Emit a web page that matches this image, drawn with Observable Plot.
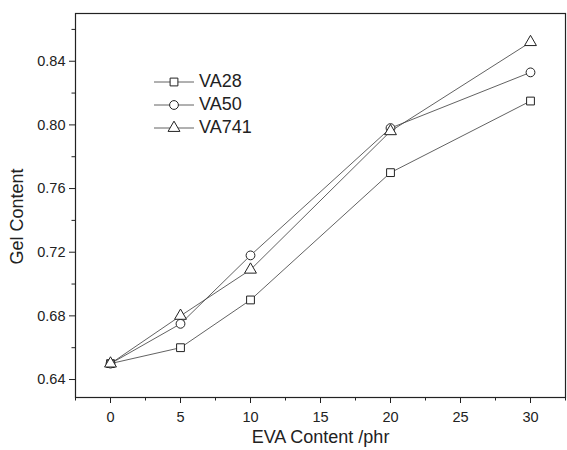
<!DOCTYPE html>
<html>
<head>
<meta charset="utf-8">
<script src="https://cdn.jsdelivr.net/npm/d3@7"></script>
<script src="https://cdn.jsdelivr.net/npm/@observablehq/plot@0.6"></script>
<style>
  html, body { margin: 0; padding: 0; background: #fff; }
  #wrap { position: relative; width: 567px; height: 450px; font-family: "Liberation Sans", Arial, sans-serif; }
  #legend { position: absolute; left: 154px; top: 70px; }
  .row { display: flex; align-items: center; height: 23px; }
  .row span { font-size: 18px; color: #222; margin-left: 5px; }
</style>
</head>
<body>
<div id="wrap"><div id="legend"></div></div>
<script>
const evaContent = [0, 5, 10, 20, 30];
const seriesNames = ["VA28", "VA50", "VA741"];
const va28 = [0.650, 0.660, 0.690, 0.770, 0.815];
const va50 = [0.650, 0.675, 0.718, 0.798, 0.833];
const va741 = [0.650, 0.680, 0.709, 0.796, 0.852];
const symbols = ["square", "circle", "triangle"];
const yTicks = [0.64, 0.68, 0.72, 0.76, 0.80, 0.84];
const yMinor = [0.66, 0.70, 0.74, 0.78, 0.82, 0.86];
const xTicks = [0, 5, 10, 15, 20, 25, 30];
const xMinor = [-2.5, 2.5, 7.5, 12.5, 17.5, 22.5, 27.5, 32.5];
const yTitle = "Gel Content";
const xTitle = "EVA Content /phr";

const values = [va28, va50, va741];
const data = [];
seriesNames.forEach((s, i) => evaContent.forEach((x, j) => data.push({series: s, x, y: values[i][j]})));

const lineColor = "#3a3a3a";
const R = 4.4;
const chart = Plot.plot({
  width: 567,
  height: 450,
  marginLeft: 75,
  marginRight: 2,
  marginTop: 13,
  marginBottom: 53,
  style: {fontFamily: "Liberation Sans, Arial, sans-serif", fontSize: "14px", color: "#222", background: "white"},
  x: {domain: [-2.5, 32.5]},
  y: {domain: [0.6287, 0.870]},
  symbol: {domain: seriesNames, range: symbols},
  marks: [
    Plot.frame({stroke: "#222", strokeWidth: 1.2}),
    Plot.axisY({ticks: yTicks, tickFormat: d3.format(".2f"), tickSize: 6, tickPadding: 4, fontSize: 14.5, label: null}),
    Plot.axisY({ticks: yMinor, tickSize: 3.5, tickFormat: () => "", label: null}),
    Plot.axisX({ticks: xTicks, tickSize: 6, tickPadding: 8, fontSize: 14.5, label: null}),
    Plot.axisX({ticks: xMinor, tickSize: 3.5, tickFormat: () => "", label: null}),
    Plot.text([yTitle], {frameAnchor: "left", textAnchor: "middle", lineAnchor: "middle", rotate: -90, dx: -58, dy: 11, fontSize: 18, fill: "#222"}),
    Plot.text([xTitle], {frameAnchor: "bottom", dy: 45, fontSize: 18, fill: "#222"}),
    Plot.line(data, {x: "x", y: "y", z: "series", stroke: lineColor, strokeWidth: 0.8}),
    Plot.dot(data, {x: "x", y: "y", symbol: "series", r: R, stroke: "#222", strokeWidth: 1, fill: "white"})
  ]
});
document.getElementById("wrap").prepend(chart);

const legend = document.getElementById("legend");
seriesNames.forEach((s, i) => {
  const row = document.createElement("div");
  row.className = "row";
  const svg = d3.create("svg").attr("width", 40).attr("height", 20);
  svg.append("line").attr("x1", 0).attr("x2", 40).attr("y1", 10).attr("y2", 10).attr("stroke", lineColor).attr("stroke-width", 0.8);
  svg.append("path").attr("transform", "translate(20,10)")
    .attr("d", d3.symbol(i === 0 ? d3.symbolSquare : i === 1 ? d3.symbolCircle : d3.symbolTriangle, Math.PI * R * R)())
    .attr("fill", "white").attr("stroke", "#222");
  row.appendChild(svg.node());
  const sp = document.createElement("span");
  sp.textContent = s;
  row.appendChild(sp);
  legend.appendChild(row);
});
</script>
</body>
</html>
